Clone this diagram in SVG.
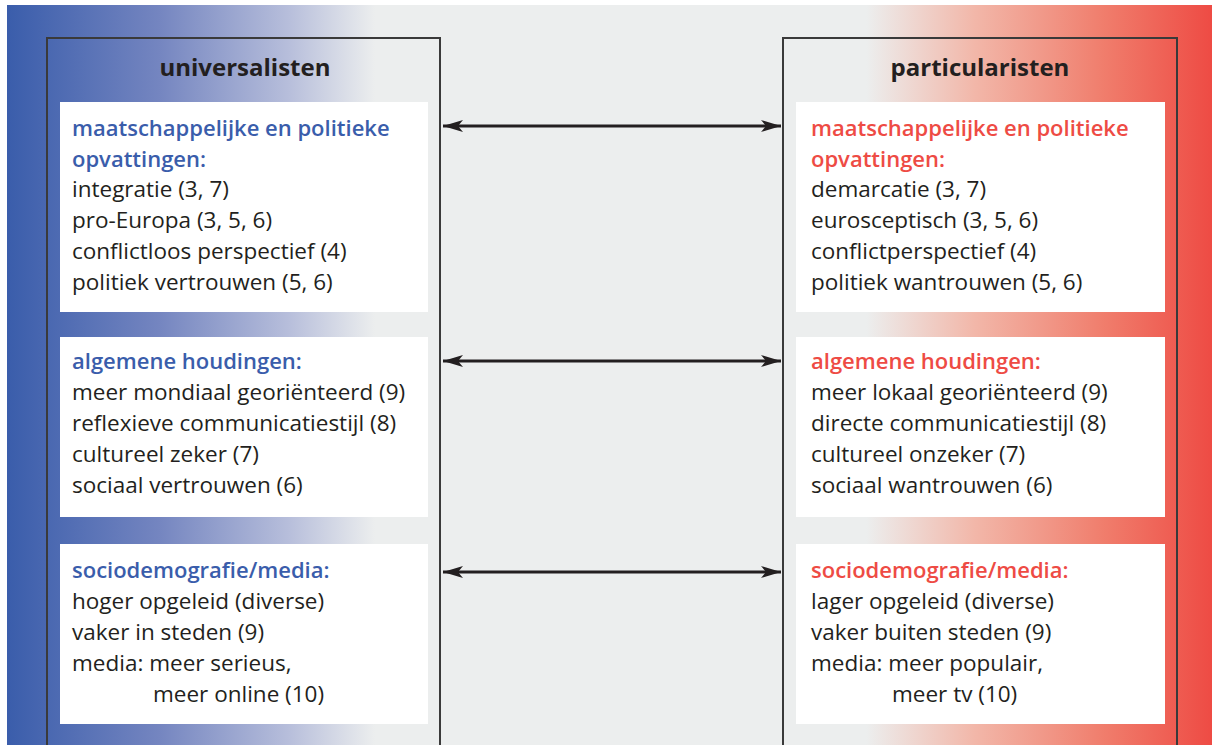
<svg xmlns="http://www.w3.org/2000/svg" width="1212" height="745" viewBox="0 0 1212 745">
<defs>
<linearGradient id="gl" gradientUnits="userSpaceOnUse" x1="7" y1="0" x2="440" y2="0">
<stop offset="0" stop-color="#3a5dab"/>
<stop offset="0.35" stop-color="#7485c0"/>
<stop offset="0.65" stop-color="#b7bedb"/>
<stop offset="0.85" stop-color="#eceeee"/>
<stop offset="1" stop-color="#eceeee"/>
</linearGradient>
<linearGradient id="gr" gradientUnits="userSpaceOnUse" x1="780" y1="0" x2="1212" y2="0">
<stop offset="0" stop-color="#eceeee"/>
<stop offset="0.2" stop-color="#eceeee"/>
<stop offset="0.45" stop-color="#f2b7a9"/>
<stop offset="0.75" stop-color="#f07d6c"/>
<stop offset="1" stop-color="#ee4b44"/>
</linearGradient>
<marker id="ah" viewBox="0 0 20 12" refX="20" refY="6" markerWidth="20" markerHeight="12" markerUnits="userSpaceOnUse" orient="auto-start-reverse">
<path d="M0,0 L20,6 L0,12 L5,6 Z" fill="#231f20"/>
</marker>
<style>
text{font-family:"Open Sans","Liberation Sans",sans-serif;font-size:22.5px;fill:#231f20;}
.hb{fill:#3a5dab;font-weight:600;font-size:22px;}
.hr{fill:#ee4b44;font-weight:600;font-size:22px;}
.title{font-weight:700;font-size:24px;text-anchor:middle;}
.col{fill:none;stroke:#3a3a3a;stroke-width:2;}
.box{fill:#ffffff;}
.conn{stroke:#231f20;stroke-width:3;fill:none;marker-start:url(#ah);marker-end:url(#ah);}
</style>
</defs>
<rect x="0" y="0" width="1212" height="745" fill="#ffffff"/>
<rect x="7" y="5" width="1205" height="740" fill="#eceeee"/>
<rect x="7" y="5" width="433" height="740" fill="url(#gl)"/>
<rect x="780" y="5" width="432" height="740" fill="url(#gr)"/>

<g id="col-left">
<rect class="col" x="47" y="38" width="393" height="720"/>
<text class="title" x="245" y="76">universalisten</text>
</g>
<g id="col-right">
<rect class="col" x="783" y="38" width="394" height="720"/>
<text class="title" x="980" y="76">particularisten</text>
</g>

<g id="left-1">
<rect class="box" x="60" y="102" width="368" height="210"/>
<text class="hb" x="72" y="136">maatschappelijke en politieke</text>
<text class="hb" x="72" y="167">opvattingen:</text>
<text x="72" y="197">integratie (3, 7)</text>
<text x="72" y="228">pro-Europa (3, 5, 6)</text>
<text x="72" y="259">conflictloos perspectief (4)</text>
<text x="72" y="290">politiek vertrouwen (5, 6)</text>
</g>
<g id="left-2">
<rect class="box" x="60" y="337" width="368" height="180"/>
<text class="hb" x="72" y="369">algemene houdingen:</text>
<text x="72" y="400">meer mondiaal georiënteerd (9)</text>
<text x="72" y="431">reflexieve communicatiestijl (8)</text>
<text x="72" y="462">cultureel zeker (7)</text>
<text x="72" y="493">sociaal vertrouwen (6)</text>
</g>
<g id="left-3">
<rect class="box" x="60" y="544" width="368" height="180"/>
<text class="hb" x="72" y="578">sociodemografie/media:</text>
<text x="72" y="609">hoger opgeleid (diverse)</text>
<text x="72" y="640">vaker in steden (9)</text>
<text x="72" y="671">media: meer serieus,</text>
<text x="153" y="702">meer online (10)</text>
</g>

<g id="right-1">
<rect class="box" x="796" y="102" width="369" height="210"/>
<text class="hr" x="811" y="136">maatschappelijke en politieke</text>
<text class="hr" x="811" y="167">opvattingen:</text>
<text x="811" y="197">demarcatie (3, 7)</text>
<text x="811" y="228">eurosceptisch (3, 5, 6)</text>
<text x="811" y="259">conflictperspectief (4)</text>
<text x="811" y="290">politiek wantrouwen (5, 6)</text>
</g>
<g id="right-2">
<rect class="box" x="796" y="337" width="369" height="180"/>
<text class="hr" x="811" y="369">algemene houdingen:</text>
<text x="811" y="400">meer lokaal georiënteerd (9)</text>
<text x="811" y="431">directe communicatiestijl (8)</text>
<text x="811" y="462">cultureel onzeker (7)</text>
<text x="811" y="493">sociaal wantrouwen (6)</text>
</g>
<g id="right-3">
<rect class="box" x="796" y="544" width="369" height="180"/>
<text class="hr" x="811" y="578">sociodemografie/media:</text>
<text x="811" y="609">lager opgeleid (diverse)</text>
<text x="811" y="640">vaker buiten steden (9)</text>
<text x="811" y="671">media: meer populair,</text>
<text x="892" y="702">meer tv (10)</text>
</g>

<g id="connectors">
<line class="conn" x1="443" y1="126" x2="781" y2="126"/>
<line class="conn" x1="443" y1="361" x2="781" y2="361"/>
<line class="conn" x1="443" y1="572" x2="781" y2="572"/>
</g>
</svg>
